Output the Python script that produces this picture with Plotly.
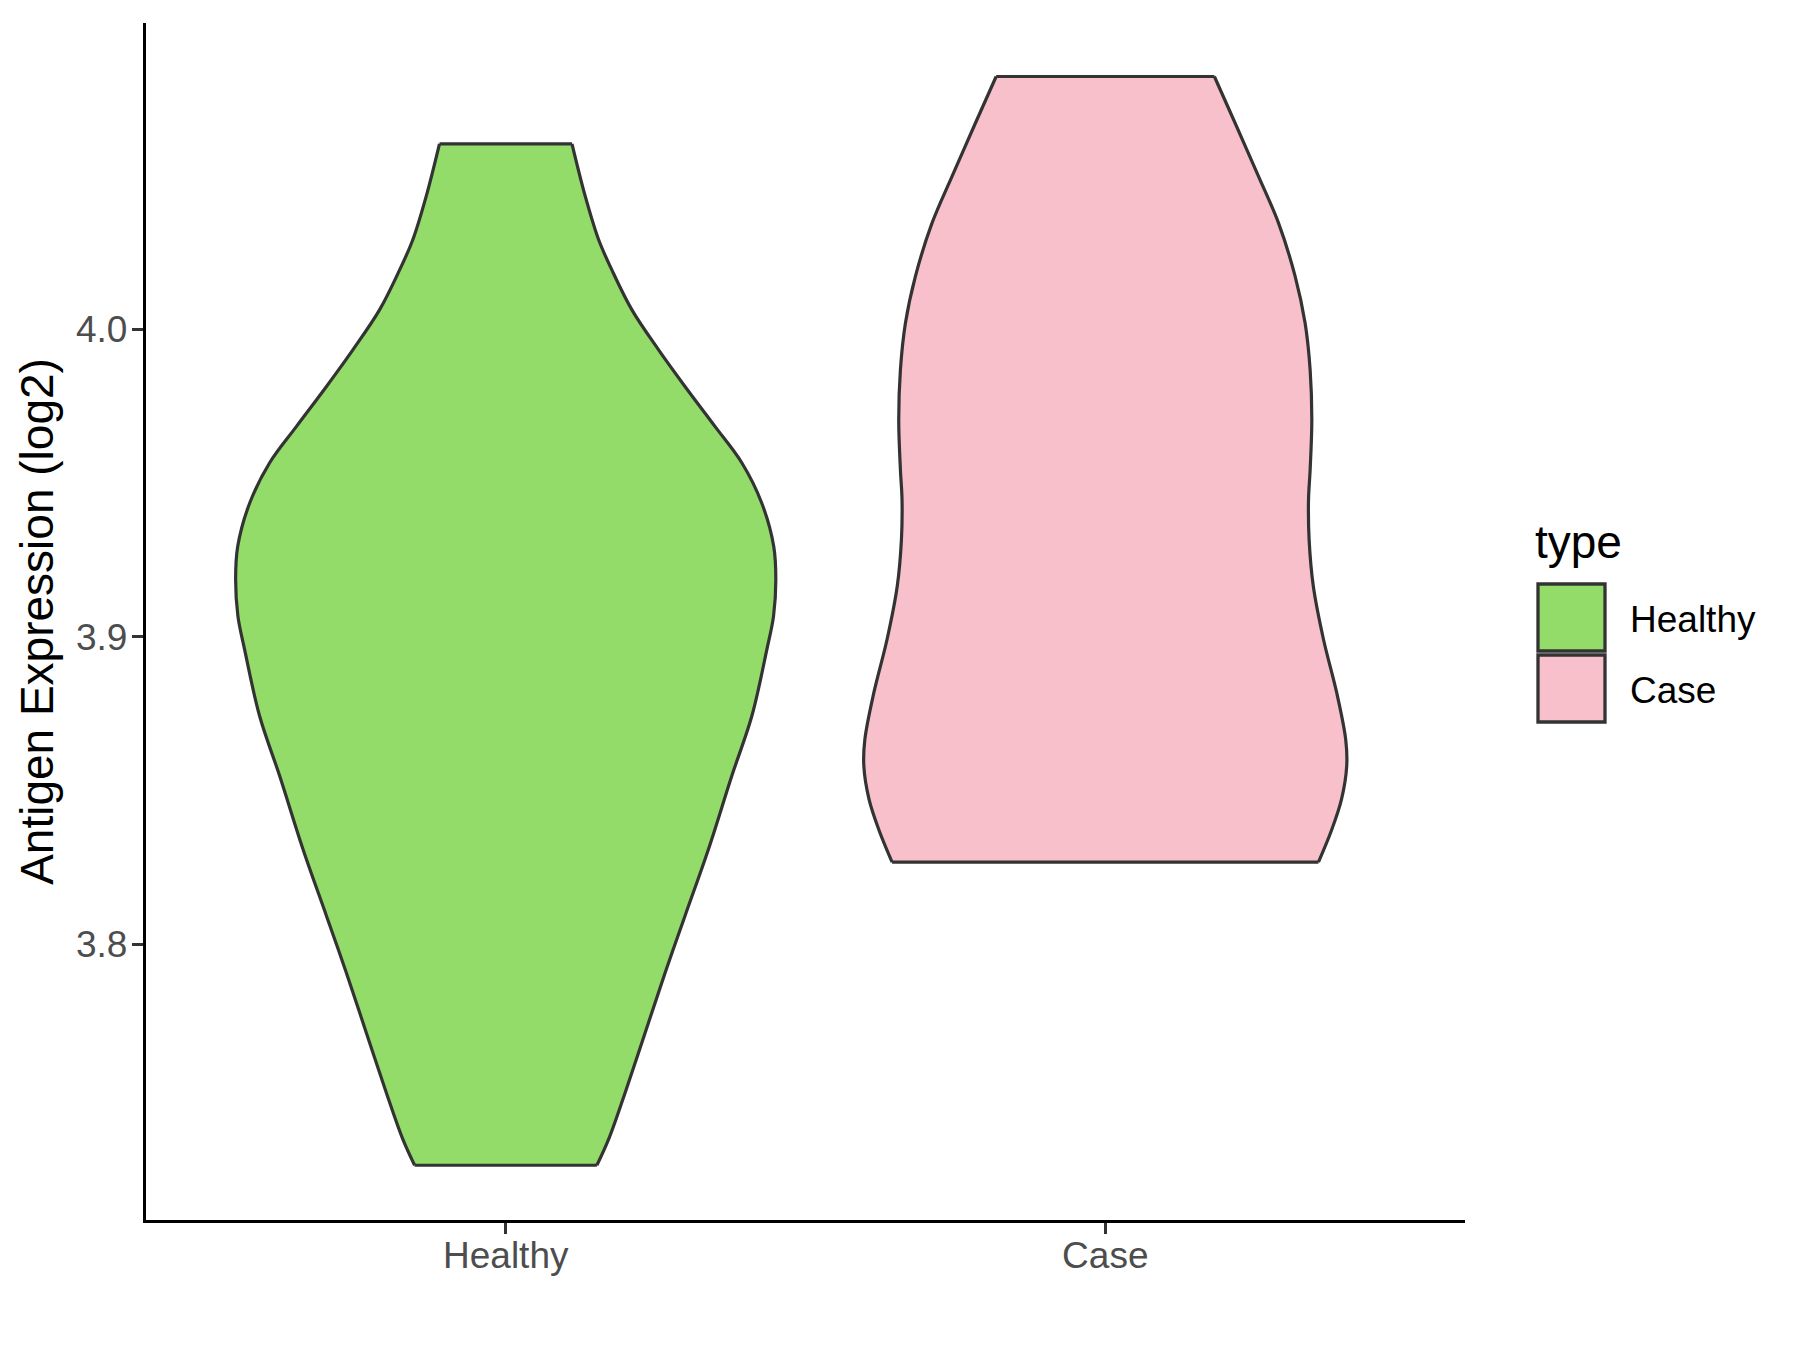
import plotly.graph_objects as go

# Categories and colours
CATEGORIES = ["Healthy", "Case"]
FILLS = {"Healthy": "#94DC6A", "Case": "#F7C0CB"}
OUTLINE = "#333333"
FONT = "Liberation Sans, Arial, sans-serif"

# Violin profiles: y value and half width (in category units)
HEALTHY_Y = [3.7281, 3.7366, 3.7518, 3.7713, 3.7908, 3.8092, 3.8308, 3.8547, 3.8742, 3.8958,
             3.9067, 3.9186, 3.9294, 3.9435, 3.9565, 3.9684, 3.9814, 3.9933, 4.0063, 4.0193,
             4.0291, 4.0432, 4.0603]
HEALTHY_HALF = [0.152, 0.1717, 0.1993, 0.2327, 0.266, 0.299, 0.338, 0.377, 0.4105, 0.4355,
                0.4467, 0.4505, 0.447, 0.427, 0.394, 0.349, 0.299, 0.255, 0.2105, 0.177,
                0.155, 0.1327, 0.1105]

CASE_Y = [3.8267, 3.8374, 3.8471, 3.8579, 3.8666, 3.8818, 3.8991, 3.9164, 3.9316, 3.9446,
          3.9543, 3.9706, 3.9868, 4.0020, 4.0172, 4.0345, 4.0497, 4.0670, 4.0822]
CASE_HALF = [0.3556, 0.378, 0.394, 0.4027, 0.401, 0.386, 0.364, 0.347, 0.340, 0.339,
             0.3417, 0.3445, 0.3417, 0.3333, 0.3167, 0.289, 0.2556, 0.2167, 0.182]

Y_TICKS = [3.8, 3.9, 4.0]
Y_RANGE = [3.7103, 4.0996]
X_RANGE = [0.4, 2.6]

PROFILES = {"Healthy": (HEALTHY_Y, HEALTHY_HALF), "Case": (CASE_Y, CASE_HALF)}

W, H = 1800, 1350
M = dict(l=138, r=343, t=15, b=138)
PAGE_OFFSET = 8  # default body margin of the html page


def px_x(px):
    return (px - PAGE_OFFSET - M["l"]) / (W - M["l"] - M["r"])


def px_y(py):
    return (H - M["b"] - (py - PAGE_OFFSET)) / (H - M["t"] - M["b"])


fig = go.Figure()

side_line = dict(color=OUTLINE, width=3.2, shape="spline", smoothing=1)
edge_line = dict(color=OUTLINE, width=3.2)

for i, name in enumerate(CATEGORIES):
    ys, hw = PROFILES[name]
    center = i + 1
    # left side, then right side filled back to the left one
    fig.add_trace(go.Scatter(
        x=[center - h for h in hw], y=ys, mode="lines", line=side_line,
        showlegend=False, hoverinfo="skip",
    ))
    fig.add_trace(go.Scatter(
        x=[center + h for h in hw], y=ys, mode="lines", line=side_line,
        fill="tonexty", fillcolor=FILLS[name],
        showlegend=False, hoverinfo="skip",
    ))
    # flat ends of the violin
    for k in (0, -1):
        fig.add_trace(go.Scatter(
            x=[center - hw[k], center + hw[k]], y=[ys[k], ys[k]],
            mode="lines", line=edge_line, showlegend=False, hoverinfo="skip",
        ))

fig.update_layout(
    width=W, height=H,
    margin=M,
    plot_bgcolor="white",
    paper_bgcolor="white",
    font=dict(family=FONT),
    xaxis=dict(
        range=X_RANGE,
        tickvals=[1, 2],
        ticktext=CATEGORIES,
        showgrid=False, zeroline=False,
        showline=True, linecolor="black", linewidth=3.3,
        ticks="outside", ticklen=11, tickwidth=3, tickcolor=OUTLINE,
        tickfont=dict(size=37, color="#4D4D4D", family=FONT),
        ticklabelstandoff=-11,
    ),
    yaxis=dict(
        range=Y_RANGE,
        tickvals=Y_TICKS,
        tickformat=".1f",
        showgrid=False, zeroline=False,
        showline=True, linecolor="black", linewidth=3.3,
        ticks="outside", ticklen=11, tickwidth=3, tickcolor=OUTLINE,
        tickfont=dict(size=37, color="#4D4D4D", family=FONT),
        ticklabelstandoff=-3,
        title=dict(text="Antigen Expression (log2)", font=dict(size=46, color="black", family=FONT),
                   standoff=8),
    ),
)

# Legend drawn by hand to get ggplot-sized keys
fig.add_annotation(
    text="type", xref="paper", yref="paper",
    x=px_x(1533), y=px_y(542), xanchor="left", yanchor="middle",
    showarrow=False, font=dict(size=46, color="black", family=FONT),
)
key_tops = [584, 655]
for name, top in zip(CATEGORIES, key_tops):
    fig.add_shape(
        type="rect", xref="paper", yref="paper",
        x0=px_x(1538), x1=px_x(1605), y0=px_y(top), y1=px_y(top + 67),
        fillcolor=FILLS[name], line=dict(color=OUTLINE, width=3.3),
    )
    fig.add_annotation(
        text=name, xref="paper", yref="paper",
        x=px_x(1628), y=px_y(top + 35), xanchor="left", yanchor="middle",
        showarrow=False, font=dict(size=37, color="black", family=FONT),
    )

fig.write_html("out.html")
